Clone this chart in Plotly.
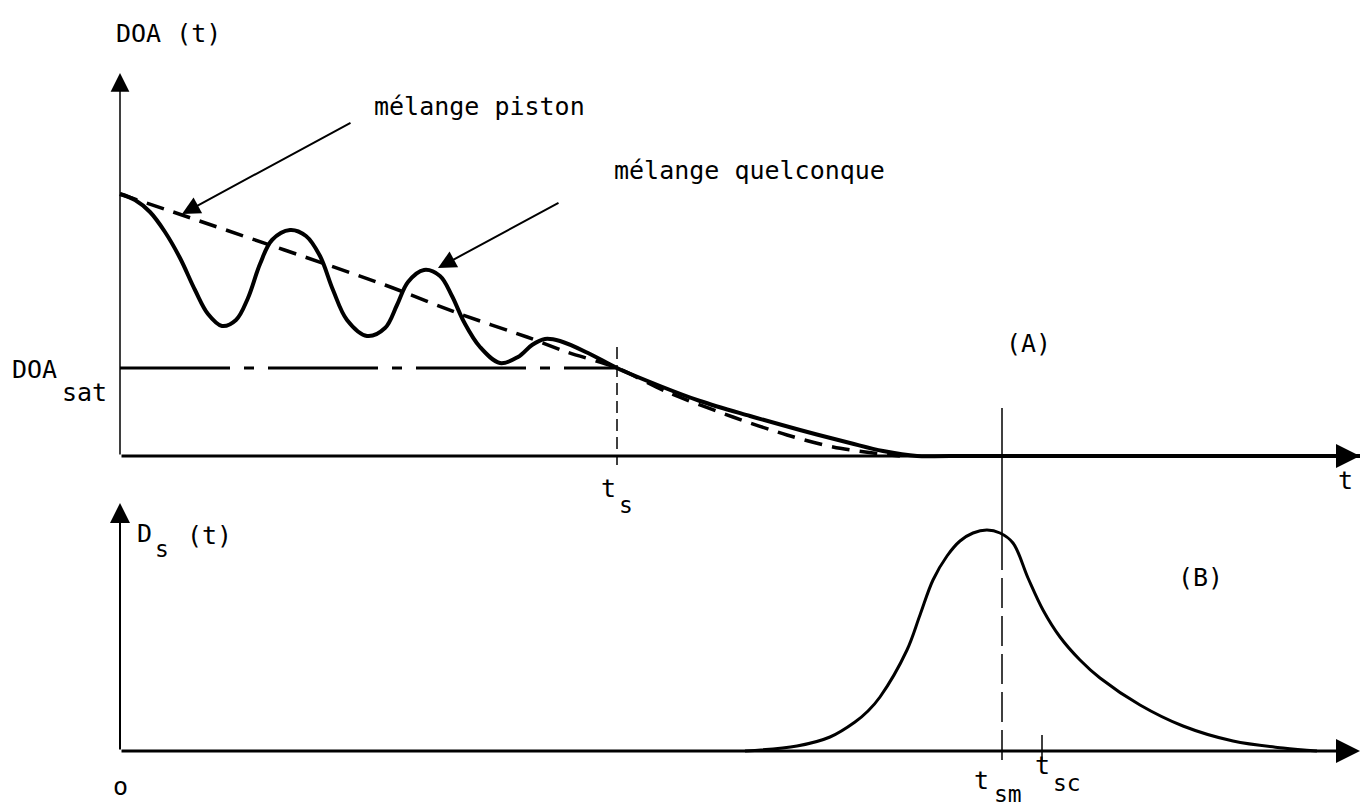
import plotly.graph_objects as go

# ---------------- data (arbitrary schematic units) ----------------
# Panel (A): DOA(t)
t_quelconque = [0, 1.5, 3.0, 4.5, 6.0, 7.5, 8.8, 10.2, 11.6, 12.8, 14.0, 15.2, 17.0, 18.6, 20.0,
                21.3, 22.7, 24.7, 26.5, 27.7, 28.8, 30.4, 32.0, 33.2, 34.4, 36.0, 38.0, 39.8,
                41.2, 42.5, 44.0, 47.0, 49.7, 54.0, 58.0, 63.0, 68.0, 73.0, 76.3, 79.7, 83.0, 124]
doa_quelconque = [26.2, 25.6, 24.4, 22.4, 19.8, 16.6, 14.2, 13.0, 13.6, 15.8, 19.2, 21.6, 22.6, 22.0, 20.0,
                  16.6, 13.6, 12.0, 12.8, 15.1, 17.4, 18.6, 18.0, 16.0, 13.4, 10.9, 9.3, 9.9,
                  11.1, 11.7, 11.5, 10.2, 8.8, 7.0, 5.5, 4.0, 2.6, 1.3, 0.5, 0.0, 0.0, 0.0]

t_piston = [0, 6.2, 26.5, 34.0, 40.7, 44.7, 49.7, 54.7, 61.3, 66.7, 71.3, 75.3, 78.0]
doa_piston = [26.2, 24.1, 17.1, 14.2, 11.9, 10.4, 8.8, 6.4, 3.9, 2.1, 0.9, 0.3, 0.0]

doa_sat = 8.8
t_s = 49.7

# Panel (B): Ds(t)
t_ds = [62.5, 67.7, 71.0, 73.5, 74.8, 76.0, 78.7, 80.0, 81.3, 82.7, 84.0, 85.3, 86.7, 88.0, 89.3,
        90.8, 92.3, 94.0, 96.0, 98.0, 102.0, 106.3, 111.3, 116.3, 119.7]
ds = [0.0, 0.5, 1.4, 2.9, 4.0, 5.4, 10.1, 13.6, 17.1, 19.5, 21.0, 21.8, 22.1, 21.8, 20.8,
      17.3, 14.1, 11.4, 9.1, 7.3, 4.6, 2.5, 1.0, 0.3, 0.0]

t_sm = 88.2
t_sc = 92.2
t_max = 124

FONT = dict(family="DejaVu Sans Mono", size=25, color="black")
SUBFONT = dict(family="DejaVu Sans Mono", size=23, color="black")
BLACK = "black"

fig = go.Figure()

# DOA_sat dash-dot line
fig.add_trace(go.Scatter(x=[0, t_s], y=[doa_sat, doa_sat], mode="lines",
                         line=dict(color=BLACK, width=3, dash="110px,14px,10px,14px"),
                         hoverinfo="skip", showlegend=False))
# piston (dashed)
fig.add_trace(go.Scatter(x=t_piston, y=doa_piston, mode="lines",
                         line=dict(color=BLACK, width=3.5, dash="18px,10px", shape="spline", smoothing=0.8),
                         hoverinfo="skip", showlegend=False))
# quelconque (solid)
fig.add_trace(go.Scatter(x=t_quelconque, y=doa_quelconque, mode="lines",
                         line=dict(color=BLACK, width=4, shape="spline", smoothing=1.0),
                         hoverinfo="skip", showlegend=False))
# t_s vertical dashed
fig.add_trace(go.Scatter(x=[t_s, t_s], y=[10.9, -0.9], mode="lines",
                         line=dict(color=BLACK, width=1.5, dash="12px,6px"),
                         hoverinfo="skip", showlegend=False))

# Panel B curve
fig.add_trace(go.Scatter(x=t_ds, y=ds, mode="lines", yaxis="y2",
                         line=dict(color=BLACK, width=3, shape="spline", smoothing=1.0),
                         hoverinfo="skip", showlegend=False))
# t_sm line: solid above, dashed below the peak
fig.add_trace(go.Scatter(x=[t_sm, t_sm], y=[34.3, 21.1], mode="lines", yaxis="y2",
                         line=dict(color=BLACK, width=1.5),
                         hoverinfo="skip", showlegend=False))
fig.add_trace(go.Scatter(x=[t_sm, t_sm], y=[21.1, -1.6], mode="lines", yaxis="y2",
                         line=dict(color=BLACK, width=1.5, dash="30px,8px"),
                         hoverinfo="skip", showlegend=False))
# t_sc tick
fig.add_trace(go.Scatter(x=[t_sc, t_sc], y=[1.6, -0.9], mode="lines", yaxis="y2",
                         line=dict(color=BLACK, width=1.5),
                         hoverinfo="skip", showlegend=False))

# ---------- axes with arrows (annotations) ----------
def axis_arrow(x, y, ax, ay, yref, width, size):
    fig.add_annotation(x=x, y=y, ax=ax, ay=ay, xref="x", yref=yref, axref="x", ayref=yref,
                       text="", showarrow=True, arrowhead=2, arrowsize=size,
                       arrowwidth=width, arrowcolor=BLACK)

axis_arrow(0, 38.3, 0, 0, "y", 1.5, 2.5)       # DOA axis
axis_arrow(t_max, 0, 0, 0, "y", 3, 1.6)        # t axis (A)
axis_arrow(0, 24.8, 0, 0, "y2", 2, 2.0)        # Ds axis
axis_arrow(t_max, 0, 0, 0, "y2", 3, 1.6)       # t axis (B)

# pointer arrows
fig.add_annotation(x=6.2, y=24.2, ax=23.2, ay=33.4, xref="x", yref="y", axref="x", ayref="y",
                   text="", showarrow=True, arrowhead=2, arrowsize=1.8, arrowwidth=2, arrowcolor=BLACK)
fig.add_annotation(x=31.8, y=18.8, ax=44.0, ay=25.4, xref="x", yref="y", axref="x", ayref="y",
                   text="", showarrow=True, arrowhead=2, arrowsize=1.8, arrowwidth=2, arrowcolor=BLACK)

# ---------- labels ----------
def label(text, x, y, yref="y", xanchor="center", font=FONT):
    fig.add_annotation(x=x, y=y, xref="x", yref=yref, text=text, showarrow=False,
                       font=font, xanchor=xanchor, yanchor="middle")

label("DOA (t)", -0.6, 42.3, xanchor="left")
label("mélange piston", 25.2, 35.0, xanchor="left")
label("mélange quelconque", 49.2, 28.6, xanchor="left")
label("DOA", -11, 8.7, xanchor="left")
label("sat", -6, 6.4, xanchor="left")
label("(A)", 90.8, 11.3)
label("t", 48.8, -3.2)
label("s", 50.6, -4.9, font=SUBFONT)
label("t", 122.5, -2.4)

label("D", 2.4, 21.8, yref="y2")
label("s", 4.2, 20.2, yref="y2", font=SUBFONT)
label("(t)", 8.9, 21.6, yref="y2")
label("(B)", 108.0, 17.4, yref="y2")
label("t", 86.1, -2.9, yref="y2")
label("sm", 88.8, -4.3, yref="y2", font=SUBFONT)
label("t", 92.2, -1.4, yref="y2")
label("sc", 94.7, -3.2, yref="y2", font=SUBFONT)
label("o", 0.0, -3.5, yref="y2")

fig.update_layout(
    width=1370, height=806,
    margin=dict(l=0, r=0, t=0, b=0),
    paper_bgcolor="white", plot_bgcolor="white",
    xaxis=dict(range=[-12, 125], visible=False, fixedrange=True),
    yaxis=dict(range=[-35, 45.6], visible=False, fixedrange=True, domain=[0, 1]),
    yaxis2=dict(range=[-5.5, 75.1], visible=False, fixedrange=True, overlaying="y"),
    showlegend=False,
)

fig.write_html("out.html", config={"displayModeBar": False})
